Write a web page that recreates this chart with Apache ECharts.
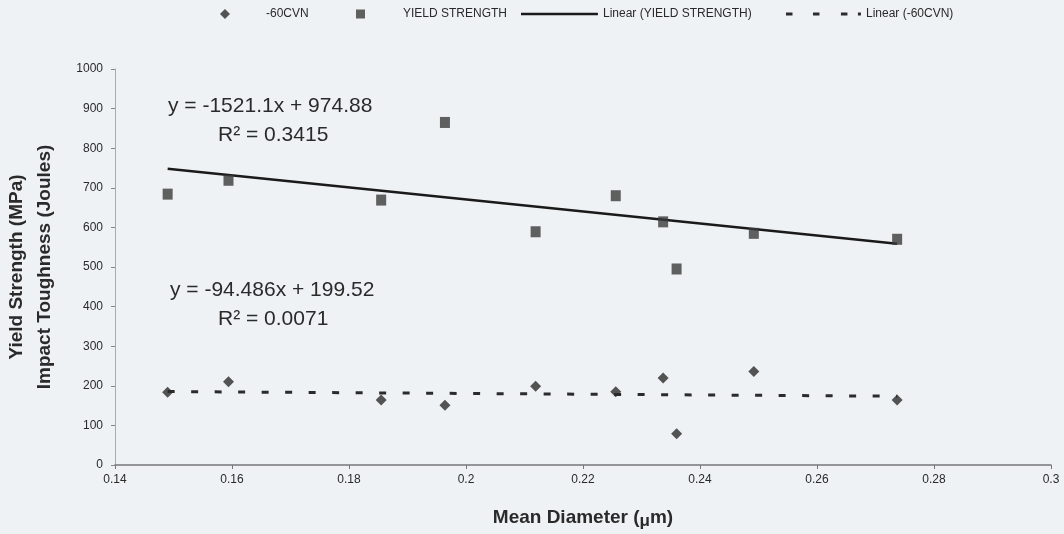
<!DOCTYPE html>
<html>
<head>
<meta charset="utf-8">
<script src="https://cdn.jsdelivr.net/npm/echarts@6/dist/echarts.min.js"></script>
<style>
html,body{margin:0;padding:0;background:#eef2f4;}
#chart{width:1064px;height:534px;}
</style>
</head>
<body>
<div id="chart"></div>
<script>
// ---- data ----
const meanDiameter = [0.149, 0.1594, 0.1855, 0.1964, 0.2119, 0.2256, 0.2337, 0.236, 0.2492, 0.2737];
const yieldStrength = [684, 719, 669, 865, 589, 680, 614, 495, 585, 570];
const cvn60 = [184, 210, 164, 151, 199, 185, 220, 79, 236, 164];
const trendYield = { slope: -1521.1, intercept: 974.88, r2: '0.3415' };
const trendCvn = { slope: -94.486, intercept: 199.52, r2: '0.0071' };
const xTickLabels = ['0.14', '0.16', '0.18', '0.2', '0.22', '0.24', '0.26', '0.28', '0.3'];
const yTickLabels = ['0', '100', '200', '300', '400', '500', '600', '700', '800', '900', '1000'];
const legendNames = ['-60CVN', 'YIELD STRENGTH', 'Linear (YIELD STRENGTH)', 'Linear (-60CVN)'];

const xMin = Math.min(...meanDiameter), xMax = Math.max(...meanDiameter);
const lineFrom = t => [[xMin, t.slope * xMin + t.intercept], [xMax, t.slope * xMax + t.intercept]];

const FONT = "'Liberation Sans', Arial, sans-serif";
const TXT = '#2a2a2a';
const DARK = '#2b2b2b';

// legend icons (bounding boxes padded with tiny dots so the icon keeps its shape)
const legendIcons = [
  'path://M0,0h0.01v0.01h-0.01z M46,10h0.01v0.01h-0.01z M5,5L10,0L15,5L10,10Z',
  'path://M0,0h0.01v0.01h-0.01z M48,10h0.01v0.01h-0.01z M6,0.5h9v9h-9z',
  'path://M0,0h0.01v0.01h-0.01z M77,10h0.01v0.01h-0.01z M0,3.8h77v2.5h-77z',
  'path://M0,0h0.01v0.01h-0.01z M80,10h0.01v0.01h-0.01z M5,3.5h6.5v3h-6.5z M32,3.5h6.5v3h-6.5z M60,3.5h6.5v3h-6.5z M77,3.5h3v3h-3z'
];
const legendBoxes = [[215, 46], [350, 48], [521, 77], [781, 80]];

const chart = echarts.init(document.getElementById('chart'));
const option = {
  backgroundColor: '#eef2f4',
  animation: false,
  legend: legendNames.map((n, i) => ({
    data: [{ name: n, icon: legendIcons[i] }],
    left: legendBoxes[i][0], top: 8, itemWidth: legendBoxes[i][1], itemHeight: 10,
    textStyle: { fontFamily: FONT, fontSize: 12, color: TXT }, padding: 0
  })),
  grid: { left: 115, right: 13, top: 69, bottom: 69, containLabel: false, outerBoundsMode: 'none' },
  xAxis: {
    type: 'value', min: 0.14, max: 0.3, interval: 0.02,
    name: 'Mean Diameter ({mu|μ}m)', nameLocation: 'middle', nameGap: 40,
    nameTextStyle: {
      fontFamily: FONT, fontSize: 19, fontWeight: 'bold', color: TXT,
      rich: { mu: { fontFamily: FONT, fontSize: 17, fontWeight: 'bold', color: TXT, verticalAlign: 'bottom', padding: [8, 0, 0, 0] } }
    },
    axisLine: { show: true, lineStyle: { color: '#777', width: 1.5 } },
    axisTick: { show: true, length: 4, lineStyle: { color: '#777' } },
    splitLine: { show: false },
    axisLabel: {
      margin: 9, fontFamily: FONT, fontSize: 12, color: TXT,
      formatter: v => xTickLabels[Math.round((v - 0.14) / 0.02)]
    }
  },
  yAxis: {
    type: 'value', min: 0, max: 1000, interval: 100,
    name: 'Yield Strength (MPa)\nImpact Toughness (Joules)', nameLocation: 'middle', nameGap: 56, nameRotate: 90,
    nameTextStyle: { fontFamily: FONT, fontSize: 19, fontWeight: 'bold', color: TXT, lineHeight: 28 },
    axisLine: { show: true, lineStyle: { color: '#aaa', width: 1 } },
    axisTick: { show: true, length: 4, lineStyle: { color: '#888' } },
    splitLine: { show: false },
    axisLabel: {
      margin: 12, fontFamily: FONT, fontSize: 12, color: TXT,
      formatter: v => yTickLabels[Math.round(v / 100)]
    }
  },
  series: [
    {
      name: legendNames[0], type: 'scatter', symbol: 'diamond', symbolSize: [11, 11],
      itemStyle: { color: DARK }, z: 3,
      data: meanDiameter.map((x, i) => [x, cvn60[i]])
    },
    {
      name: legendNames[1], type: 'scatter', symbol: 'rect', symbolSize: [10, 11],
      itemStyle: { color: '#3a3a3a' }, z: 3,
      data: meanDiameter.map((x, i) => [x, yieldStrength[i]])
    },
    {
      name: legendNames[2], type: 'line', symbol: 'none', z: 2,
      itemStyle: { color: '#1a1a1a' },
      lineStyle: { color: '#1a1a1a', width: 2.5 },
      data: lineFrom(trendYield)
    },
    {
      name: legendNames[3], type: 'line', symbol: 'none', z: 2,
      itemStyle: { color: DARK },
      lineStyle: { color: DARK, width: 3, type: [7, 16.5] },
      data: lineFrom(trendCvn)
    }
  ],
  graphic: [
    { type: 'text', x: 168, y: 106, style: { text: 'y = ' + trendYield.slope + 'x + ' + trendYield.intercept, font: '21px ' + FONT, fill: TXT, verticalAlign: 'middle' } },
    { type: 'text', x: 218, y: 135, style: { text: 'R² = ' + trendYield.r2, font: '21px ' + FONT, fill: TXT, verticalAlign: 'middle' } },
    { type: 'text', x: 170, y: 290, style: { text: 'y = ' + trendCvn.slope + 'x + ' + trendCvn.intercept, font: '21px ' + FONT, fill: TXT, verticalAlign: 'middle' } },
    { type: 'text', x: 218, y: 319, style: { text: 'R² = ' + trendCvn.r2, font: '21px ' + FONT, fill: TXT, verticalAlign: 'middle' } }
  ]
};
chart.setOption(option);
</script>
</body>
</html>
